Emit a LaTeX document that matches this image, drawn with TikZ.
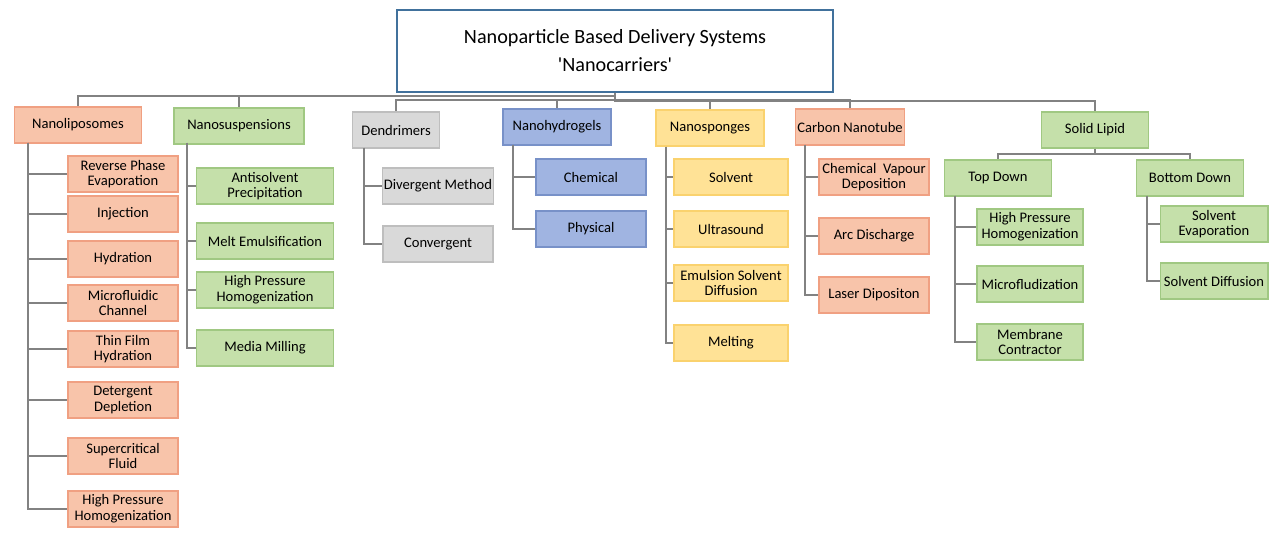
\documentclass[tikz,border=0pt]{standalone}
\usepackage{fontspec}
\setmainfont{Carlito}
\begin{document}
\begin{tikzpicture}[x=0.02cm,y=-0.02cm,
  bx/.style={draw, line width=0.6pt, align=center, inner sep=1pt, font=\fontsize{8.3}{8.9}\selectfont, minimum height=0.72cm},
  or/.style={bx, fill={rgb,255:red,248;green,196;blue,170}, draw={rgb,255:red,240;green,160;blue,130}},
  gr/.style={bx, fill={rgb,255:red,197;green,224;blue,170}, draw={rgb,255:red,160;green,200;blue,130}},
  gy/.style={bx, fill={rgb,255:red,217;green,217;blue,217}, draw={rgb,255:red,190;green,190;blue,190}},
  bl/.style={bx, fill={rgb,255:red,160;green,180;blue,225}, draw={rgb,255:red,120;green,145;blue,200}},
  ye/.style={bx, fill={rgb,255:red,255;green,226;blue,150}, draw={rgb,255:red,250;green,210;blue,110}},
  ln/.style={draw={rgb,255:red,130;green,130;blue,130}, line width=0.9pt}]
\useasboundingbox (0,0) rectangle (1284,540);
\node[draw={rgb,255:red,65;green,113;blue,156}, line width=0.8pt, minimum width=8.72cm, minimum height=1.64cm, align=center, font=\fontsize{11.5}{16}\selectfont] (root) at (615,51) {Nanoparticle Based Delivery Systems\\\textquotesingle Nanocarriers\textquotesingle};
% level 1
\node[or, minimum width=2.54cm] (L1) at (78,125) {Nanoliposomes};
\node[gr, minimum width=2.6cm] (L2) at (239,126) {Nanosuspensions};
\node[gy, minimum width=1.74cm] (L3) at (396,130) {Dendrimers};
\node[bl, minimum width=2.16cm] (L4) at (557,127) {Nanohydrogels};
\node[ye, minimum width=2.16cm] (L5) at (710,128) {Nanosponges};
\node[or, minimum width=2.16cm] (L6) at (850,127) {Carbon Nanotube};
\node[gr, minimum width=2.14cm] (L7) at (1095,130) {Solid Lipid};
\foreach \n/\h in {L1/96,L2/96,L3/100,L4/100,L5/100,L6/100,L7/101}
  \draw[ln] (root.south) -- (615,\h) -| (\n.north);
% Nanoliposomes
\foreach \i/\y/\t in {1/174/Reverse Phase\\Evaporation, 2/214/Injection, 3/259/Hydration, 4/303/Microfluidic\\Channel, 5/349/Thin Film\\Hydration, 6/400/Detergent\\Depletion, 7/456/Supercritical\\Fluid, 8/509/High Pressure\\Homogenization}
  \node[or, minimum width=2.2cm] (a\i) at (123,\y) {\t};
\coordinate (va) at (28,143);
\foreach \i in {1,...,8} \draw[ln] (va) |- (a\i.west);
% Nanosuspensions
\foreach \i/\y/\t in {1/186/Antisolvent\\Precipitation, 2/241/Melt Emulsification, 3/290/High Pressure\\Homogenization, 4/348/Media Milling}
  \node[gr, minimum width=2.74cm] (b\i) at (265,\y) {\t};
\coordinate (vb) at (187,143);
\foreach \i in {1,...,4} \draw[ln] (vb) |- (b\i.west);
% Dendrimers
\foreach \i/\y/\t in {1/186/Divergent Method, 2/244/Convergent}
  \node[gy, minimum width=2.2cm] (c\i) at (438,\y) {\t};
\coordinate (vc) at (364,148);
\foreach \i in {1,2} \draw[ln] (vc) |- (c\i.west);
% Nanohydrogels
\foreach \i/\y/\t in {1/177/Chemical, 2/229/Physical}
  \node[bl, minimum width=2.2cm] (d\i) at (591,\y) {\t};
\coordinate (vd) at (513,145);
\foreach \i in {1,2} \draw[ln] (vd) |- (d\i.west);
% Nanosponges
\foreach \i/\y/\t in {1/177/Solvent, 2/229/Ultrasound, 3/283/Emulsion Solvent\\Diffusion, 4/343/Melting}
  \node[ye, minimum width=2.28cm] (e\i) at (731,\y) {\t};
\coordinate (ve) at (666,147);
\foreach \i in {1,...,4} \draw[ln] (ve) |- (e\i.west);
% Carbon Nanotube
\foreach \i/\y/\t in {1/177/Chemical~ Vapour\\Deposition, 2/236/Arc Discharge, 3/295/Laser Dipositon}
  \node[or, minimum width=2.2cm] (f\i) at (874,\y) {\t};
\coordinate (vf) at (805,145);
\foreach \i in {1,2,3} \draw[ln] (vf) |- (f\i.west);
% Solid Lipid
\node[gr, minimum width=2.14cm] (g1) at (998,178) {Top Down};
\node[gr, minimum width=2.14cm] (g2) at (1190,178) {Bottom Down};
\draw[ln] (L7.south) -- (1095,154) -| (g1.north);
\draw[ln] (1095,154) -| (g2.north);
\foreach \i/\y/\t in {1/227/High Pressure\\Homogenization, 2/284/Microfludization, 3/342/Membrane\\Contractor}
  \node[gr, minimum width=2.12cm] (h\i) at (1030,\y) {\t};
\coordinate (vh) at (955,196);
\foreach \i in {1,2,3} \draw[ln] (vh) |- (h\i.west);
\foreach \i/\y/\t in {1/224/Solvent\\Evaporation, 2/281/Solvent Diffusion}
  \node[gr, minimum width=2.16cm] (k\i) at (1214,\y) {\t};
\coordinate (vk) at (1147,196);
\foreach \i in {1,2} \draw[ln] (vk) |- (k\i.west);
\end{tikzpicture}
\end{document}
